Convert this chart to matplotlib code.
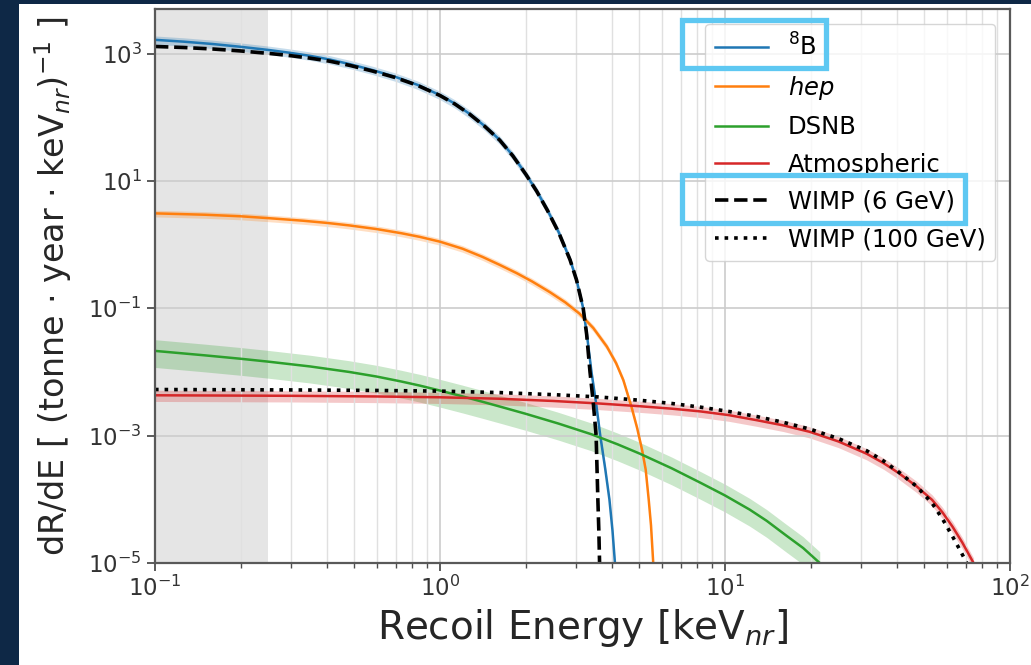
import numpy as np
import matplotlib
matplotlib.use('Agg')
import matplotlib.pyplot as plt
from matplotlib.patches import Rectangle

# recoil energy [keV_nr] and rates [1/(tonne year keV_nr)]
e_b8 = [0.1, 0.126, 0.159, 0.2, 0.253, 0.297, 0.35, 0.411, 0.483, 0.579, 0.695, 0.834, 1.0,
        1.128, 1.273, 1.436, 1.62, 1.8, 2.0, 2.183, 2.38, 2.61, 2.86, 3.013, 3.18, 3.3, 3.4,
        3.53, 3.65, 3.8, 3.93, 4.03, 4.11]
r_b8 = [1640, 1535, 1411, 1274, 1130, 1027, 919, 804, 680, 550, 432, 322, 222,
        163, 112, 72.4, 44, 25.1, 12.8, 7.0, 3.5, 1.56, 0.58, 0.28, 0.1, 0.03, 0.01,
        3.2e-3, 1e-3, 3e-4, 1e-4, 3.2e-5, 1e-5]

e_hep = [0.1, 0.15, 0.2, 0.25, 0.33, 0.4, 0.48, 0.6, 0.73, 0.85, 1.0, 1.2, 1.41, 1.62, 1.86,
         2.1, 2.43, 2.75, 3.09, 3.45, 3.85, 4.15, 4.4, 4.7, 4.92, 5.12, 5.27, 5.4, 5.5, 5.6]
r_hep = [3.09, 2.94, 2.78, 2.6, 2.37, 2.19, 2.0, 1.75, 1.51, 1.32, 1.11, 0.86, 0.64, 0.48, 0.355,
         0.265, 0.179, 0.124, 0.082, 0.049, 0.025, 0.0137, 7.4e-3, 2.8e-3, 1.3e-3, 5.9e-4, 2.9e-4,
         9.8e-5, 3.9e-5, 1e-5]

e_dsnb = [0.1, 0.15, 0.2, 0.25, 0.35, 0.48, 0.6, 0.73, 0.85, 1.0, 1.2, 1.41, 1.65, 2.0, 2.6,
          3.4, 4.2, 5.0, 6.5, 8.2, 10, 12.2, 14, 16.4, 18.8, 21.5]
r_dsnb = [0.0214, 0.0182, 0.0161, 0.0145, 0.0122, 0.0100, 0.00846, 0.00709, 0.0061, 0.0051,
          0.00413, 0.0034, 0.0028, 0.0022, 0.00155, 1.05e-3, 7.3e-4, 5.26e-4, 3.07e-4, 1.82e-4,
          1.15e-4, 6.9e-5, 4.6e-5, 2.7e-5, 1.72e-5, 1e-5]

e_atm = [0.1, 0.3, 0.6, 1.0, 1.6, 2.5, 3.6, 5.0, 6.5, 8.2, 10.3, 12.9, 16, 19.8, 25, 31.4,
         36, 40.6, 47, 53.3, 58, 62.9, 68, 74.5]
r_atm = [4.3e-3, 4.22e-3, 4.12e-3, 4.0e-3, 3.8e-3, 3.5e-3, 3.2e-3, 2.9e-3, 2.65e-3, 2.4e-3,
         2.1e-3, 1.75e-3, 1.45e-3, 1.15e-3, 8.1e-4, 5.2e-4, 3.7e-4, 2.6e-4, 1.6e-4, 9.8e-5,
         6.2e-5, 3.7e-5, 2.1e-5, 1e-5]

e_w6 = [0.1, 0.126, 0.159, 0.2, 0.253, 0.297, 0.35, 0.411, 0.483, 0.579, 0.695, 0.834, 1.0,
        1.128, 1.273, 1.436, 1.62, 1.8, 2.0, 2.183, 2.38, 2.61, 2.86, 3.013, 3.18, 3.27, 3.36,
        3.45, 3.53, 3.58, 3.61, 3.63]
r_w6 = [1290, 1243, 1178, 1096, 1000, 929, 845, 756, 650, 531, 421, 316, 219,
        161, 111, 71.7, 43.6, 24.8, 12.7, 6.9, 3.47, 1.54, 0.575, 0.278, 0.1, 0.039, 0.01,
        3.3e-3, 1e-3, 1e-4, 3e-5, 1e-5]

e_w100 = [0.1, 0.3, 0.6, 1.0, 1.6, 2.5, 3.6, 5.0, 6.5, 8.2, 10.3, 12.9, 16, 19.8, 25, 31.4,
          36, 40.6, 47, 53.3, 58, 62.9, 67, 70.5]
r_w100 = [5.3e-3, 5.22e-3, 5.12e-3, 5.0e-3, 4.75e-3, 4.4e-3, 4.05e-3, 3.6e-3, 3.2e-3, 2.8e-3,
          2.4e-3, 2.0e-3, 1.62e-3, 1.27e-3, 9.0e-4, 5.8e-4, 4.0e-4, 2.7e-4, 1.6e-4, 8.7e-5,
          4.9e-5, 2.6e-5, 1.55e-5, 1e-5]

# fractional band widths (lower, upper)
band_b8 = (0.85, 1.15)
band_hep = (0.88, 1.12)
band_dsnb = (0.55, 1.5)
band_atm = (0.8, 1.2)

threshold = 0.25

navy = '#0e2846'
W, H = 1031, 665

fig = plt.figure(figsize=(W / 100, H / 100), dpi=100, facecolor=navy)
fig.add_artist(Rectangle((19 / W, 0), 1 - 19 / W, (H - 4) / H, transform=fig.transFigure,
                         facecolor='white', edgecolor='none', zorder=-1))

ax = fig.add_axes([155 / W, 102 / H, 855 / W, 554 / H])
ax.set_xscale('log')
ax.set_yscale('log')

ax.axvspan(0.1, threshold, color='0.5', alpha=0.2, lw=0)

series = [
    (e_b8, r_b8, band_b8, 'C0', r'$^{8}$B'),
    (e_hep, r_hep, band_hep, 'C1', r'$hep$'),
    (e_dsnb, r_dsnb, band_dsnb, 'C2', 'DSNB'),
    (e_atm, r_atm, band_atm, 'C3', 'Atmospheric'),
]
for e, r, (lo, hi), c, lab in series:
    e = np.array(e)
    r = np.array(r)
    ax.fill_between(e, r * lo, r * hi, color=c, alpha=0.25, lw=0)
    ax.plot(e, r, color=c, lw=1.8, label=lab)

ax.plot(e_w6, r_w6, 'k--', lw=2.6, label='WIMP (6 GeV)')
ax.plot(e_w100, r_w100, 'k:', lw=2.6, label='WIMP (100 GeV)')

ax.set_xlim(0.1, 100)
ax.set_ylim(1e-5, 5e3)
ax.set_yticks([1e-5, 1e-3, 1e-1, 1e1, 1e3])
ax.yaxis.set_minor_locator(matplotlib.ticker.NullLocator())
ax.grid(which='major', color='0.8', lw=1.2)
ax.grid(which='minor', axis='x', color='0.88', lw=1.0)
ax.tick_params(which='major', labelsize=16.5, length=6, width=1.2, colors='0.25', labelcolor='0.2')
ax.tick_params(which='minor', length=3.5, width=1.0, colors='0.3')
for s in ax.spines.values():
    s.set_color('0.35')
    s.set_linewidth(1.6)

ax.set_xlabel(r'Recoil Energy [keV$_{nr}$]', fontsize=28, color='0.15', labelpad=4)
ax.set_ylabel(r'dR/dE [ (tonne $\cdot$ year $\cdot$ keV$_{nr}$)$^{-1}$ ]', fontsize=24,
              color='0.15', labelpad=10)

leg = ax.legend(loc='upper right', fontsize=17.5, handlelength=2.2, labelspacing=0.55,
                borderaxespad=0.6)

# highlight boxes round two legend entries
fig.canvas.draw()
frame = leg.get_frame().get_window_extent()
texts = leg.get_texts()
for i in (0, 4):
    tb = texts[i].get_window_extent()
    x0 = frame.x0 - 23
    x1 = tb.x1 + 10
    yc = (tb.y0 + tb.y1) / 2 + 3
    fig.add_artist(Rectangle((x0 / W, (yc - 24) / H), (x1 - x0) / W, 48 / H,
                             transform=fig.transFigure, fill=False,
                             edgecolor='#5ec8f2', lw=3.8, zorder=10))

fig.savefig('out.png', dpi=100, facecolor=fig.get_facecolor())
